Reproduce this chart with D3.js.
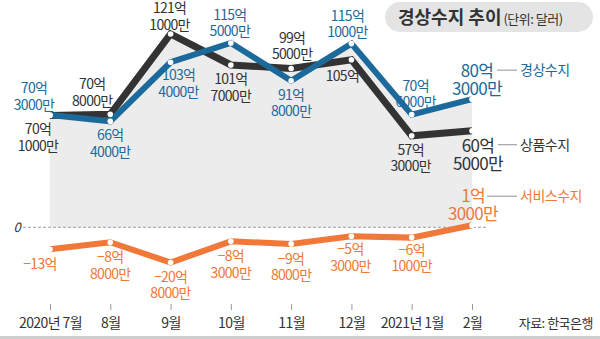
<!DOCTYPE html>
<html>
<head>
<meta charset="utf-8">
<script src="https://cdn.jsdelivr.net/npm/d3@7"></script>
<style>
  html, body { margin: 0; padding: 0; background: #fff; }
  svg { display: block; font-family: "Noto Sans CJK KR", "Noto Sans", sans-serif; }
</style>
</head>
<body>
<svg id="chart" width="600" height="339"></svg>
<script>
// Monthly balance of payments, unit: 억 달러
const months = ["2020년 7월", "8월", "9월", "10월", "11월", "12월", "2021년 1월", "2월"];
const currentAccount = [70.3, 66.4, 103.4, 115.5, 91.8, 115.1, 70.6, 80.3];
const goodsBalance   = [70.1, 70.8, 121.1, 101.7, 99.5, 105.0, 57.3, 60.5];
const serviceBalance = [-13.0, -8.8, -20.8, -8.3, -9.8, -5.3, -6.1, 1.3];

const currentLabels = [["70억","3000만"],["66억","4000만"],["103억","4000만"],["115억","5000만"],["91억","8000만"],["115억","1000만"],["70억","6000만"],["80억","3000만"]];
const goodsLabels   = [["70억","1000만"],["70억","8000만"],["121억","1000만"],["101억","7000만"],["99억","5000만"],["105억"],["57억","3000만"],["60억","5000만"]];
const serviceLabels = [["−13억"],["−8억","8000만"],["−20억","8000만"],["−8억","3000만"],["−9억","8000만"],["−5억","3000만"],["−6억","1000만"],["1억","3000만"]];

const seriesNames = ["경상수지", "상품수지", "서비스수지"];

const svg = d3.select("#chart");

const x = d3.scalePoint().domain(months).range([50, 472]);
const y = d3.scaleLinear().domain([-20.8, 0, 121.1]).range([262.5, 227.3, 34]);

const COLORS = { current: "#1b6a9b", goods: "#333333", service: "#f07838" };

// title pill
const title = svg.append("g");
title.append("rect").attr("x", 385).attr("y", 2).attr("width", 208).attr("height", 30)
  .attr("rx", 15).attr("fill", "#e4e4e4");
const tt = title.append("text").attr("x", 398).attr("y", 24).attr("fill", "#333");
tt.append("tspan").attr("font-size", 18).attr("font-weight", 700).text("경상수지 추이");
tt.append("tspan").attr("font-size", 13).attr("dx", 2).attr("letter-spacing", -0.5).text("(단위: 달러)");

// shaded area under the two upper lines
const areaGen = d3.area()
  .x((d, i) => x(months[i]))
  .y0(y(0))
  .y1(d => y(d));
[goodsBalance, currentAccount].forEach(arr => {
  svg.append("path").attr("d", areaGen(arr)).attr("fill", "#ececec");
});

// zero line
svg.append("line").attr("x1", 23).attr("x2", 488).attr("y1", y(0)).attr("y2", y(0))
  .attr("stroke", "#888").attr("stroke-width", 0.8).attr("stroke-dasharray", "3,2");
svg.append("text").attr("x", 17).attr("y", y(0) + 5).attr("text-anchor", "middle")
  .attr("font-size", 13).attr("font-style", "italic").attr("fill", "#333").text("0");

// x axis
const xAxis = d3.axisBottom(x).tickSize(6).tickPadding(8);
const ax = svg.append("g").attr("transform", "translate(0,304)").call(xAxis);
ax.select(".domain").remove();
ax.selectAll(".tick line").attr("stroke", "#999");
ax.selectAll(".tick text").attr("font-size", 14).attr("fill", "#333")
  .attr("font-family", "Noto Sans CJK KR").attr("letter-spacing", -0.6);

svg.append("rect").attr("x", 0).attr("y", 336).attr("width", 600).attr("height", 3).attr("fill", "#cfcfcf");
svg.append("text").attr("x", 593).attr("y", 328).attr("text-anchor", "end")
  .attr("font-size", 13).attr("fill", "#333").attr("letter-spacing", -0.5).text("자료: 한국은행");

// lines
const lineGen = d3.line().x((d, i) => x(months[i])).y(d => y(d));
function drawLine(arr, color, w) {
  svg.append("path").attr("d", lineGen(arr)).attr("fill", "none")
    .attr("stroke", color).attr("stroke-width", w).attr("stroke-linejoin", "miter");
}
drawLine(goodsBalance, COLORS.goods, 7);
drawLine(currentAccount, COLORS.current, 6);
drawLine(serviceBalance, COLORS.service, 6);

function drawDots(arr) {
  svg.append("g").selectAll("circle").data(arr).join("circle")
    .attr("cx", (d, i) => x(months[i])).attr("cy", d => y(d)).attr("r", 2.8)
    .attr("fill", "#fff");
}
drawDots(goodsBalance);
drawDots(currentAccount);
drawDots(serviceBalance);

// value labels: offsets (dx, dy of first line center) relative to each point
const goodsOff   = [[-12,14],[-18,-30],[-1,-26],[0,14],[1,-31],[-9,16],[-1,14],[6,15]];
const currentOff = [[-16,-27],[0,14],[8,13],[-1,-28],[0,14],[-4,-28],[4,-29],[5,-28]];
const serviceOff = [[-10,15],[0,15],[0,14],[0,15],[0,15],[-1,13],[0,12],[1,-29]];

function drawLabels(arr, labels, offs, color) {
  const g = svg.append("g");
  arr.forEach((v, i) => {
    const big = i === arr.length - 1;
    const fs = big ? 17 : 14;
    const lh = big ? 18 : 16.5;
    labels[i].forEach((s, k) => {
      g.append("text")
        .attr("x", x(months[i]) + offs[i][0])
        .attr("y", y(v) + offs[i][1] + fs * 0.36 + k * lh)
        .attr("text-anchor", "middle")
        .attr("font-size", fs)
        .attr("letter-spacing", -0.7)
        .attr("fill", color)
        .text(s);
    });
  });
}
drawLabels(goodsBalance, goodsLabels, goodsOff, COLORS.goods);
drawLabels(currentAccount, currentLabels, currentOff, COLORS.current);
drawLabels(serviceBalance, serviceLabels, serviceOff, COLORS.service);

// series names at the right with leader lines
const nameY = [y(currentAccount[7]) - 29, y(goodsBalance[7]) + 14, y(serviceBalance[7]) - 29];
const nameColor = [COLORS.current, COLORS.goods, COLORS.service];
const leadX1 = [497, 498, 487];
seriesNames.forEach((n, i) => {
  svg.append("line").attr("x1", leadX1[i]).attr("x2", 517)
    .attr("y1", nameY[i]).attr("y2", nameY[i]).attr("stroke", "#777").attr("stroke-width", 0.8);
  svg.append("text").attr("x", 520).attr("y", nameY[i] + 5).attr("font-size", 14)
    .attr("letter-spacing", -0.5).attr("fill", nameColor[i]).text(n);
});
</script>
</body>
</html>
